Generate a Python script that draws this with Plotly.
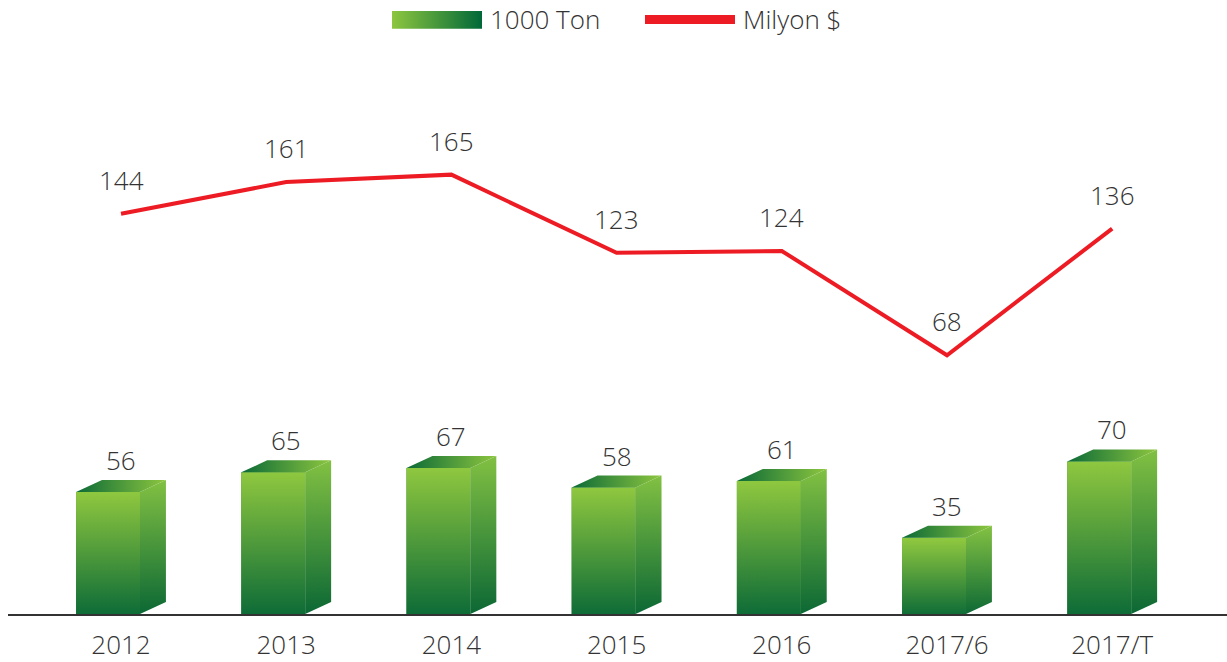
import plotly.graph_objects as go

categories = ["2012", "2013", "2014", "2015", "2016", "2017/6", "2017/T"]
tons = [56, 65, 67, 58, 61, 35, 70]          # 1000 Ton
usd = [144, 161, 165, 123, 124, 68, 136]     # Milyon $
series_names = ["1000 Ton", "Milyon $"]

LIGHT = "#8dc63f"
DARK = "#0b6a37"
RED = "#ed1c24"
TXT = "#333333"
FONT = "Open Sans"
FS = 26
FW = 300

# 3D bar geometry (in axis units)
FRONT_L, FRONT_R, BACK_R = -0.272, 0.115, 0.272
DEPTH_DX = BACK_R - FRONT_R
DEPTH_DY = 5.5

fig = go.Figure()
xs = list(range(len(categories)))

# front faces as real bars, overlaid with gradient faces
fig.add_trace(go.Bar(
    x=[x + (FRONT_L + FRONT_R) / 2 for x in xs], y=tons, name=series_names[0],
    width=FRONT_R - FRONT_L, marker=dict(color="#3f8f3c", line=dict(width=0)),
    showlegend=False, hoverinfo="skip"))

for i, v in zip(xs, tons):
    fig.add_trace(go.Scatter(
        x=[i + FRONT_L, i + FRONT_R, i + FRONT_R, i + FRONT_L, i + FRONT_L],
        y=[0, 0, v, v, 0], fill="toself", mode="none",
        fillgradient=dict(type="vertical", start=0, stop=v,
                          colorscale=[[0, DARK], [1, LIGHT]]),
        showlegend=False, hoverinfo="skip"))
    fig.add_trace(go.Scatter(
        x=[i + FRONT_R, i + BACK_R, i + BACK_R, i + FRONT_R, i + FRONT_R],
        y=[0, DEPTH_DY, v + DEPTH_DY, v, 0], fill="toself", mode="none",
        fillgradient=dict(type="vertical", start=0, stop=v + DEPTH_DY,
                          colorscale=[[0, "#096634"], [1, "#80bf42"]]),
        showlegend=False, hoverinfo="skip"))
    fig.add_trace(go.Scatter(
        x=[i + FRONT_L, i + FRONT_R, i + BACK_R, i + FRONT_L + DEPTH_DX, i + FRONT_L],
        y=[v, v, v + DEPTH_DY, v + DEPTH_DY, v], fill="toself", mode="none",
        fillgradient=dict(type="horizontal", start=i + FRONT_L, stop=i + BACK_R,
                          colorscale=[[0, DARK], [1, LIGHT]]),
        showlegend=False, hoverinfo="skip"))

# line
fig.add_trace(go.Scatter(
    x=xs, y=usd, yaxis="y2", mode="lines", name=series_names[1],
    line=dict(color=RED, width=4), showlegend=False, hoverinfo="skip"))

# value labels
for i, v in zip(xs, tons):
    fig.add_annotation(x=i, y=v, xref="x", yref="y", text=str(v), showarrow=False,
                       yshift=32, font=dict(size=FS, color=TXT, family=FONT, weight=FW))
for i, v in zip(xs, usd):
    fig.add_annotation(x=i, y=v, xref="x", yref="y2", text=str(v), showarrow=False,
                       yshift=34, font=dict(size=FS, color=TXT, family=FONT, weight=FW))

# custom legend (on a pixel-like overlay axis pair)
fig.add_trace(go.Scatter(
    x=[392, 482, 482, 392, 392], y=[11, 11, 29, 29, 11], xaxis="x3", yaxis="y3",
    fill="toself", mode="none", showlegend=False, hoverinfo="skip",
    fillgradient=dict(type="horizontal", start=392, stop=482,
                      colorscale=[[0, LIGHT], [1, "#006838"]])))
fig.add_trace(go.Scatter(
    x=[645, 735], y=[19.5, 19.5], xaxis="x3", yaxis="y3", mode="lines",
    line=dict(color=RED, width=9), showlegend=False, hoverinfo="skip"))
fig.add_annotation(x=488, y=19.5, xref="x3", yref="y3", text=series_names[0],
                   xanchor="left", showarrow=False,
                   font=dict(size=FS, color=TXT, family=FONT, weight=FW))
fig.add_annotation(x=741, y=19.5, xref="x3", yref="y3", text=series_names[1],
                   xanchor="left", showarrow=False,
                   font=dict(size=FS, color=TXT, family=FONT, weight=FW))

fig.update_layout(
    width=1227, height=662,
    margin=dict(l=8, r=0, t=0, b=45),
    paper_bgcolor="white", plot_bgcolor="white",
    font=dict(family=FONT, size=FS, color=TXT),
    barmode="overlay",
    showlegend=False,
    hovermode=False,
    xaxis=dict(range=[-0.684, 6.695], tickmode="array", tickvals=xs,
               ticktext=categories, showline=True, linecolor="#333333",
               linewidth=1.5, ticks="", showgrid=False, zeroline=False,
               ticklabelstandoff=7,
               tickfont=dict(size=FS, color=TXT, family=FONT, weight=FW),
               fixedrange=True),
    yaxis=dict(range=[0, 281.7], visible=False, showgrid=False, zeroline=False),
    yaxis2=dict(range=[-71.0, 258.8], overlaying="y", visible=False,
                showgrid=False, zeroline=False),
    xaxis3=dict(range=[8, 1227], overlaying="x", anchor="y3", visible=False),
    yaxis3=dict(range=[617, 0], overlaying="y", anchor="x3", visible=False),
)

fig.write_html("out.html", config={"displayModeBar": False},
               post_script="document.body.style.margin='0px';")
